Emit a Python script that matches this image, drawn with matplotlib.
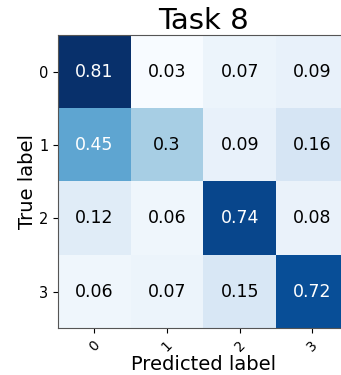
import numpy as np
import matplotlib
matplotlib.use('Agg')
import matplotlib.pyplot as plt

classes = ['0', '1', '2', '3']
cm = np.array([
    [0.81, 0.03, 0.07, 0.09],
    [0.45, 0.3, 0.09, 0.16],
    [0.12, 0.06, 0.74, 0.08],
    [0.06, 0.07, 0.15, 0.72],
])
title = 'Task 8'

fig = plt.figure(figsize=(3.41, 3.75), dpi=100)
# axes runs off the right edge like in the reference crop
ax = fig.add_axes([0.170, 0.125, 0.853, 0.781])
ax.imshow(cm, interpolation='nearest', cmap=plt.cm.Blues, aspect='auto')
ax.set_title(title, fontsize=21, pad=4)

ticks = np.arange(len(classes))
ax.set_xticks(ticks)
ax.set_xticklabels(classes, rotation=45, fontsize=10)
ax.set_yticks(ticks)
ax.set_yticklabels(classes, fontsize=10.5)

thresh = cm.max() / 2.
for i in range(cm.shape[0]):
    for j in range(cm.shape[1]):
        ax.text(j, i, str(cm[i, j]), ha='center', va='center', fontsize=12.5,
                color='white' if cm[i, j] > thresh else 'black')

ax.set_ylabel('True label', fontsize=14, labelpad=1)
ax.set_xlabel('Predicted label', fontsize=14, labelpad=1)
for s in ax.spines.values():
    s.set_edgecolor('#555555')

fig.savefig('out.png', dpi=100)
